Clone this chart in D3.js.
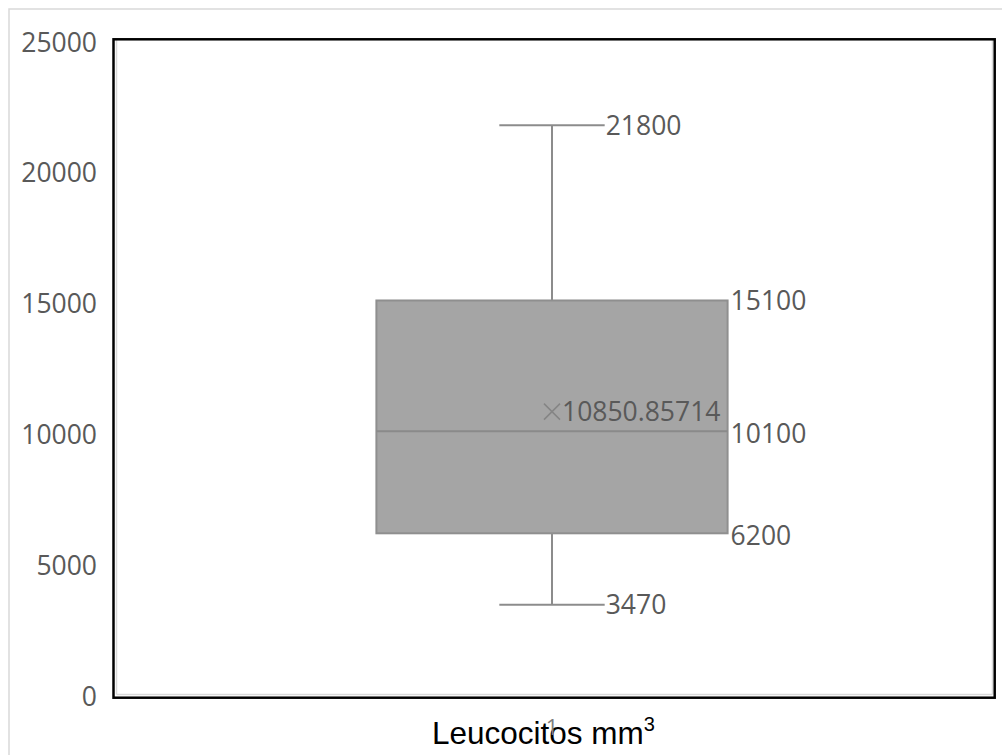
<!DOCTYPE html>
<html>
<head>
<meta charset="utf-8">
<script src="https://cdn.jsdelivr.net/npm/d3@7"></script>
<style>
  html, body { margin: 0; padding: 0; background: #fff; }
  svg { display: block; }
</style>
</head>
<body>
<svg id="chart" width="1002" height="755"></svg>
<script>
// Box-and-whisker summary for leukocyte counts
const categories = ["1"];
const whiskerMin = [3470];
const quartile1 = [6200];
const medians = [10100];
const quartile3 = [15100];
const whiskerMax = [21800];
const means = [10850.85714];
const meanLabels = ["10850.85714"];
const yTicks = [0, 5000, 10000, 15000, 20000, 25000];
const axisTitle = "Leucocitos mm";

const svg = d3.select("#chart");
const W = 1002, H = 755;
const frame = { left: 113.5, top: 39.3, right: 994.7, bottom: 697.7 };

const labelFont = "'Open Sans', 'Noto Sans', sans-serif";
const labelColor = "#595959";

// Outer chart border (top/left visible)
svg.append("rect")
  .attr("x", 9).attr("y", 9)
  .attr("width", W + 20).attr("height", H + 20)
  .attr("fill", "#fff")
  .attr("stroke", "#d9d9d9").attr("stroke-width", 1.5);

const x = d3.scaleBand().domain(categories).range([113, 991]);
const y = d3.scaleLinear().domain([0, 25000]).range([695.5, 41.5]);

// Inner plot outline (grey), under the black frame
const g = svg.append("g");
g.append("line").attr("x1", 116.5).attr("x2", 116.5).attr("y1", frame.top).attr("y2", 694.5)
  .attr("stroke", "#d9d9d9").attr("stroke-width", 1.5);
g.append("line").attr("x1", 992.5).attr("x2", 992.5).attr("y1", frame.top).attr("y2", 694.5)
  .attr("stroke", "#d9d9d9").attr("stroke-width", 1.5);
g.append("line").attr("x1", 116.5).attr("x2", 992.5).attr("y1", 694.5).attr("y2", 694.5)
  .attr("stroke", "#d9d9d9").attr("stroke-width", 1.5);

// Black plot frame
svg.append("rect")
  .attr("x", frame.left).attr("y", frame.top)
  .attr("width", frame.right - frame.left).attr("height", frame.bottom - frame.top)
  .attr("fill", "none").attr("stroke", "#000").attr("stroke-width", 2.5);

// Y axis labels
const yAxis = d3.axisLeft(y).tickValues(yTicks).tickSize(0).tickPadding(0).tickFormat(d3.format("d"));
const yg = svg.append("g").attr("transform", "translate(97,0)").call(yAxis);
yg.select(".domain").remove();
yg.selectAll("text")
  .attr("font-family", labelFont).attr("font-size", 26.5)
  .attr("fill", labelColor).attr("dy", "0.36em");

const data = categories.map((c, i) => ({
  c, lo: whiskerMin[i], q1: quartile1[i], med: medians[i], q3: quartile3[i], hi: whiskerMax[i],
  mean: means[i], meanLabel: meanLabels[i]
}));

const boxW = x.bandwidth() * 0.4;
const capW = boxW * 0.3;
const whiskerColor = "#8c8c8c";

const box = svg.append("g").selectAll("g").data(data).join("g");

box.each(function(d) {
  const gg = d3.select(this);
  const cx = x(d.c) + x.bandwidth() / 2;
  // whiskers
  gg.append("line").attr("x1", cx).attr("x2", cx).attr("y1", y(d.hi)).attr("y2", y(d.q3))
    .attr("stroke", whiskerColor).attr("stroke-width", 2);
  gg.append("line").attr("x1", cx).attr("x2", cx).attr("y1", y(d.q1)).attr("y2", y(d.lo))
    .attr("stroke", whiskerColor).attr("stroke-width", 2);
  gg.append("line").attr("x1", cx - capW / 2).attr("x2", cx + capW / 2).attr("y1", y(d.hi)).attr("y2", y(d.hi))
    .attr("stroke", whiskerColor).attr("stroke-width", 2);
  gg.append("line").attr("x1", cx - capW / 2).attr("x2", cx + capW / 2).attr("y1", y(d.lo)).attr("y2", y(d.lo))
    .attr("stroke", whiskerColor).attr("stroke-width", 2);
  // box
  gg.append("rect")
    .attr("x", cx - boxW / 2).attr("y", y(d.q3))
    .attr("width", boxW).attr("height", y(d.q1) - y(d.q3))
    .attr("fill", "#a5a5a5").attr("stroke", "#8f8f8f").attr("stroke-width", 2);
  // median
  gg.append("line").attr("x1", cx - boxW / 2).attr("x2", cx + boxW / 2).attr("y1", y(d.med)).attr("y2", y(d.med))
    .attr("stroke", "#8a8a8a").attr("stroke-width", 2);
  // mean marker (×)
  const m = 8;
  const my = y(d.mean);
  gg.append("path")
    .attr("d", `M${cx - m},${my - m}L${cx + m},${my + m}M${cx - m},${my + m}L${cx + m},${my - m}`)
    .attr("stroke", "#858585").attr("stroke-width", 1.5).attr("fill", "none");

  // value labels
  const lab = (tx, val, txt) => gg.append("text")
    .attr("x", tx).attr("y", y(val)).attr("dy", "0.36em")
    .attr("font-family", labelFont).attr("font-size", 26.5).attr("fill", labelColor)
    .text(txt);
  lab(cx + capW / 2 + 1, d.hi, String(d.hi));
  lab(cx + capW / 2 + 1, d.lo, String(d.lo));
  lab(cx + boxW / 2 + 3, d.q3, String(d.q3));
  lab(cx + boxW / 2 + 3, d.med, String(d.med)).attr("dy", "0.43em");
  lab(cx + boxW / 2 + 3, d.q1, String(d.q1)).attr("dy", "0.43em");
  lab(cx + 10, d.mean, d.meanLabel);
});

// Axis title
const title = svg.append("text")
  .attr("x", 543.5).attr("y", 744)
  .attr("text-anchor", "middle")
  .attr("font-family", "'Liberation Sans', Arial, sans-serif")
  .attr("font-size", 31.5).attr("fill", "#000");
title.append("tspan").text(axisTitle);
title.append("tspan").attr("font-size", 20).attr("dy", -13).text("3");

// X axis category label, drawn over the title
const xAxis = d3.axisBottom(x).tickSize(0).tickPadding(0);
const xg = svg.append("g").attr("transform", "translate(0,719)").call(xAxis);
xg.select(".domain").remove();
xg.selectAll("text")
  .attr("font-family", labelFont).attr("font-size", 22)
  .attr("fill", "#7f7f7f").attr("dy", "0.71em");
</script>
</body>
</html>
